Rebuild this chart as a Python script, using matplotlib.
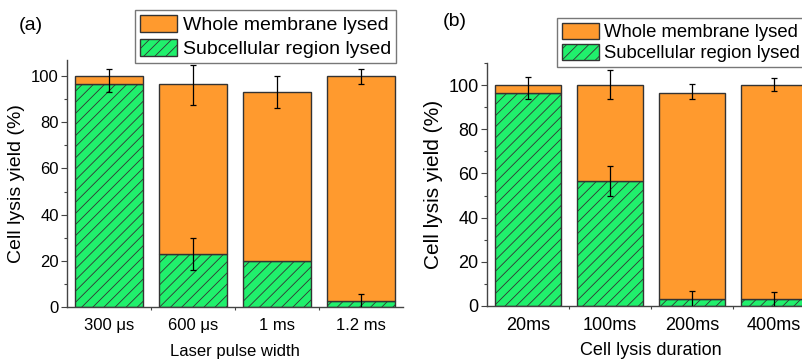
import numpy as np
import matplotlib.pyplot as plt
from matplotlib.ticker import MultipleLocator
from matplotlib.patches import Patch

plt.rcParams['font.family'] = ['Liberation Sans', 'DejaVu Sans']
plt.rcParams['hatch.linewidth'] = 0.6
plt.rcParams['hatch.color'] = '#1a1a1a'

ORANGE = '#FF9A2E'
GREEN = '#20F06C'
EDGE = '#333333'

# panel (a): laser pulse width
labels_a = ['300 μs', '600 μs', '1 ms', '1.2 ms']
sub_a = [96.5, 23.0, 20.0, 2.5]          # subcellular region lysed
total_a = [100.0, 96.5, 93.0, 100.0]     # whole membrane (stack top)
toperr_mid_a = [98.2, 96.2, 93.0, 99.8]
toperr_a = [4.9, 8.8, 6.9, 3.3]
suberr_a = [0.0, 6.8, 0.0, 3.2]

# panel (b): cell lysis duration
labels_b = ['20ms', '100ms', '200ms', '400ms']
sub_b = [96.5, 56.5, 3.0, 3.0]
total_b = [100.0, 100.0, 96.5, 100.0]
toperr_mid_b = [98.6, 100.3, 97.0, 100.2]
toperr_b = [5.0, 6.6, 3.3, 3.0]
suberr_b = [0.0, 6.8, 4.0, 3.3]


def draw(ax, labels, sub, total, emid, eerr, serr, width, ymax, fs_tick, fs_xl, fs_yl, xlabel, xlpad):
    x = np.arange(len(labels))
    whole = np.array(total) - np.array(sub)
    ax.bar(x, sub, width, color=GREEN, edgecolor=EDGE, linewidth=1.0, hatch='///', zorder=2)
    ax.bar(x, whole, width, bottom=sub, color=ORANGE, edgecolor=EDGE, linewidth=1.0, zorder=2)
    ax.errorbar(x, emid, yerr=eerr, fmt='none', ecolor='black', elinewidth=0.9,
                capsize=2.2, capthick=0.9, zorder=3)
    m = np.array(serr) > 0
    ax.errorbar(x[m], np.array(sub)[m], yerr=np.array(serr)[m], fmt='none', ecolor='black',
                elinewidth=0.9, capsize=2.2, capthick=0.9, zorder=3)
    ax.set_xlim(-0.5, len(labels) - 0.5)
    ax.set_ylim(0, ymax)
    ax.set_xticks(x)
    ax.set_xticklabels(labels, fontsize=fs_tick)
    ax.set_xticks(x[:-1] + 0.5, minor=True)
    ax.yaxis.set_major_locator(MultipleLocator(20))
    ax.yaxis.set_minor_locator(MultipleLocator(10))
    ax.tick_params(axis='y', which='major', direction='out', length=4, width=0.8,
                   colors='#444444', labelcolor='black', labelsize=fs_tick, pad=2)
    ax.tick_params(axis='y', which='minor', direction='out', length=2.5, width=0.8, colors='#444444')
    ax.tick_params(axis='x', which='major', direction='in', length=4, width=0.8,
                   colors='#444444', labelcolor='black', pad=8)
    ax.tick_params(axis='x', which='minor', direction='out', length=2, width=0.8, colors='#444444')
    for s in ['top', 'right']:
        ax.spines[s].set_visible(False)
    for s in ['left', 'bottom']:
        ax.spines[s].set_color('#444444')
        ax.spines[s].set_linewidth(1.0)
    ax.set_xlabel(xlabel, fontsize=fs_xl, labelpad=xlpad)
    ax.set_ylabel('Cell lysis yield (%)', fontsize=fs_yl, labelpad=4)


fig = plt.figure(figsize=(8.03, 3.63), dpi=100)
ax_a = fig.add_axes([67 / 803, 56 / 363, 336 / 803, 247 / 363])
ax_b = fig.add_axes([487 / 803, 57 / 363, 328 / 803, 243 / 363])

draw(ax_a, labels_a, sub_a, total_a, toperr_mid_a, toperr_a, suberr_a,
     0.81, 107, 12, 12, 14, 'Laser pulse width', 8)
draw(ax_b, labels_b, sub_b, total_b, toperr_mid_b, toperr_b, suberr_b,
     0.80, 110, 13, 13, 15, 'Cell lysis duration', 6)

fig.text(31 / 803, 1 - 25 / 363, '(a)', fontsize=14, ha='center', va='center')
fig.text(455 / 803, 1 - 21 / 363, '(b)', fontsize=14, ha='center', va='center')

handles = [Patch(facecolor=ORANGE, edgecolor=EDGE, linewidth=1.0),
           Patch(facecolor=GREEN, edgecolor=EDGE, linewidth=1.0, hatch='///')]
names = ['Whole membrane lysed', 'Subcellular region lysed']

leg_a = fig.legend(handles, names, loc='upper right', bbox_to_anchor=(396 / 803, 1 - 10 / 363),
                   fontsize=14, frameon=True, fancybox=False, handlelength=1.9, handleheight=0.95,
                   handletextpad=0.3, labelspacing=0.25, borderpad=0.25, borderaxespad=0)
leg_a.get_frame().set_edgecolor('#555555')
leg_a.get_frame().set_linewidth(1.0)

leg_b = fig.legend(handles, names, loc='upper left', bbox_to_anchor=(557 / 803, 1 - 18 / 363),
                   fontsize=13.3, frameon=True, fancybox=False, handlelength=2.0, handleheight=0.95,
                   handletextpad=0.3, labelspacing=0.15, borderpad=0.25, borderaxespad=0)
leg_b.get_frame().set_edgecolor('#555555')
leg_b.get_frame().set_linewidth(1.0)

fig.savefig('out.png', dpi=100)
